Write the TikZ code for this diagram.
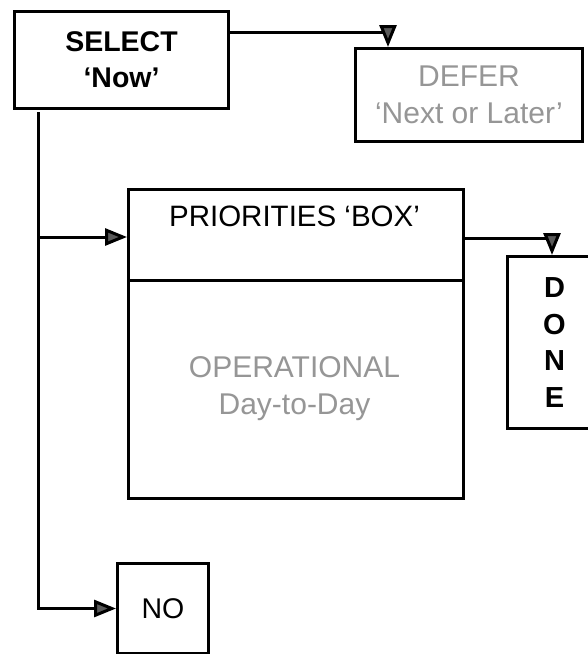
\documentclass[tikz,border=0pt]{standalone}
\usepackage{fontspec}
\setmainfont{Liberation Sans}
\usetikzlibrary{arrows.meta}
\definecolor{faint}{RGB}{150,150,150}
\begin{document}
\begin{tikzpicture}[x=1pt,y=-1pt,
  box/.style={draw=black, line width=3pt, fill=white, inner sep=0pt, anchor=north west},
  txt/.style={font=\fontsize{29.5}{36}\selectfont, align=center, inner sep=0pt},
  btxt/.style={txt, font=\fontsize{28.5}{35}\selectfont\bfseries},
  gtxt/.style={txt, font=\fontsize{30}{37}\selectfont, text=faint},
  arr/.style={line width=3pt, -{Triangle[length=22pt,width=17pt,fill=black!65]}},
  ln/.style={line width=3pt}]
\useasboundingbox (0,0) rectangle (588,654);
% boxes
\node[box, minimum width=214pt, minimum height=97pt, btxt] (select) at (13,10) {SELECT\\[1pt]`Now'};
\node[box, minimum width=227pt, minimum height=93pt, gtxt] (defer) at (354,47) {DEFER\\`Next or Later'};
\node[box, minimum width=335pt, minimum height=309pt] (prio) at (127,188) {};
\draw[ln] (prio.west |- 0,280) -- (prio.east |- 0,280);
\node[txt] (ptitle) at (294.5,216) {PRIORITIES `BOX'};
\node[gtxt] (oper) at (294.5,389) {OPERATIONAL\\Day-to-Day};
\node[box, minimum width=94pt, minimum height=172pt, font=\fontsize{29}{36.5}\selectfont\bfseries, align=center] (done) at (506,255) {D\\O\\N\\E};
\node[box, minimum width=91pt, minimum height=90pt, font=\fontsize{28.5}{35}\selectfont] (no) at (116,562) {NO};
% connectors
\coordinate (d1) at (388,32);
\coordinate (e1) at (552,238);
\coordinate (tA) at (38,112);
\coordinate (tB) at (38,237);
\draw[arr] (select.east |- d1) -| (d1 |- defer.north);
\draw[arr] (prio.east |- e1) -| (e1 |- done.north);
\draw[arr] (tA) |- (no.west);
\draw[arr] (tB) -- (tB -| prio.west);
\end{tikzpicture}
\end{document}
